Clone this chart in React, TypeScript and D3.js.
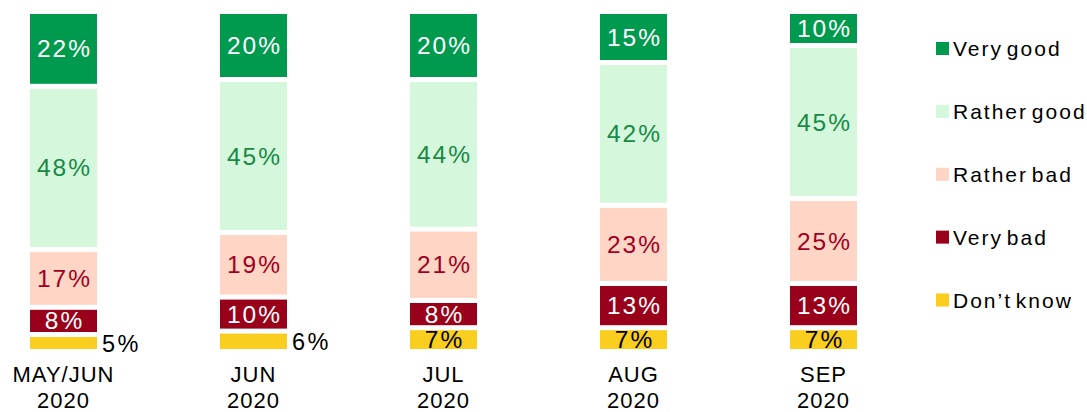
import React from "react";
import * as d3 from "d3";

const categories = ["MAY/JUN\n2020", "JUN\n2020", "JUL\n2020", "AUG\n2020", "SEP\n2020"];
const seriesNames = ["Don\u2019t know", "Very bad", "Rather bad", "Rather good", "Very good"];
const dontKnow = [5, 6, 7, 7, 7];
const veryBad = [8, 10, 8, 13, 13];
const ratherBad = [17, 19, 21, 23, 25];
const ratherGood = [48, 45, 44, 42, 45];
const veryGood = [22, 20, 20, 15, 10];

const seriesValues = [dontKnow, veryBad, ratherBad, ratherGood, veryGood];
const fills = ["#F9CE1F", "#990019", "#FFD5C5", "#D5F7DC", "#009A4E"];
const labelColors = ["#000000", "#FFFFFF", "#A0001E", "#178A45", "#FFFFFF"];
const legendOrder = [4, 3, 2, 1, 0];

const W = 1087;
const H = 412;

export default function App() {
  const x = d3.scalePoint<string>().domain(categories).range([63.5, 823.5]);
  const y = d3.scaleLinear().domain([0, 100]).range([351.5, 11.5]);
  const barW = 67;
  const inset = 2.5;
  const font = "Arial, 'Liberation Sans', sans-serif";

  const rows = categories.map((c, i) => {
    const obj: any = { cat: c };
    seriesNames.forEach((s, k) => (obj[s] = seriesValues[k][i]));
    return obj;
  });
  const stack = d3.stack<any>().keys(seriesNames)(rows);

  const legendY = d3.scalePoint<number>().domain(legendOrder).range([48.5, 300]);

  return (
    <svg width={W} height={H} style={{ position: "absolute", left: 0, top: 0 }} fontFamily={font}>
      <rect width={W} height={H} fill="#fff" />
      {stack.map((layer, k) => (
        <g key={k}>
          {layer.map((d, i) => {
            const cx = x(categories[i])!;
            const y0 = y(d[0]) - inset;
            const y1 = y(d[1]) + inset;
            const h = y0 - y1;
            const v = seriesValues[k][i];
            const mid = (y0 + y1) / 2;
            const outside = k === 0 && v <= 6;
            return (
              <g key={i}>
                <rect x={cx - barW / 2} y={y1} width={barW} height={h} fill={fills[k]} />
                {outside ? (
                  <text x={cx + barW / 2 + 5} y={mid + 8.5} fontSize={23.5} letterSpacing={2.5} fill="#000">
                    {v}%
                  </text>
                ) : (
                  <text
                    x={cx + 1}
                    y={mid + 8.5}
                    textAnchor="middle"
                    fontSize={24.5}
                    letterSpacing={2}
                    fill={labelColors[k]}
                  >
                    {v}%
                  </text>
                )}
              </g>
            );
          })}
        </g>
      ))}
      {categories.map((c, i) => {
        const lines = c.split("\n");
        return (
          <text key={c} x={x(c)!} textAnchor="middle" fontSize={22} letterSpacing={1} fill="#000">
            {lines.map((l, j) => (
              <tspan key={j} x={x(c)!} y={382 + j * 26}>
                {l}
              </tspan>
            ))}
          </text>
        );
      })}
      {legendOrder.map((k) => {
        const cy = legendY(k)!;
        return (
          <g key={k}>
            <rect x={936} y={cy - 6.5} width={13} height={13} fill={fills[k]} />
            <text x={953} y={cy + 7.5} fontSize={21} letterSpacing={2} wordSpacing={-4} fill="#000">
              {seriesNames[k]}
            </text>
          </g>
        );
      })}
    </svg>
  );
}
